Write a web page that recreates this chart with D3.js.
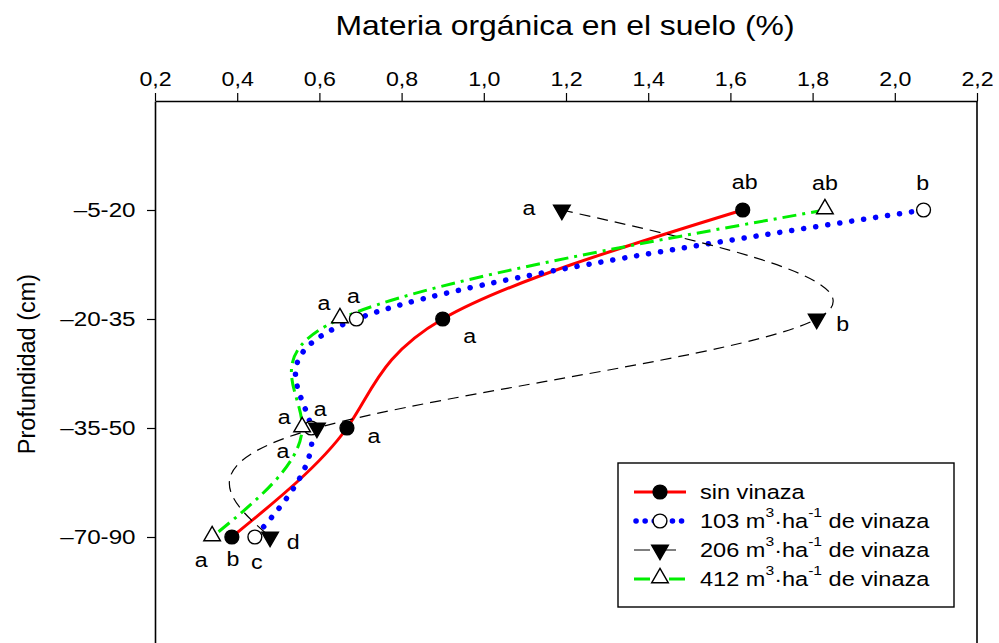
<!DOCTYPE html>
<html>
<head>
<meta charset="utf-8">
<script src="https://cdn.jsdelivr.net/npm/d3@7"></script>
<style>
  html, body { margin: 0; padding: 0; background: #fff; }
  svg { display: block; font-family: "Liberation Sans", Arial, sans-serif; }
</style>
</head>
<body>
<svg id="chart" width="999" height="643"></svg>
<script>
// Soil organic matter (%) by depth for four vinasse application rates
const depths = ["-5-20", "-20-35", "-35-50", "-70-90"];
const xTicks = [0.2, 0.4, 0.6, 0.8, 1.0, 1.2, 1.4, 1.6, 1.8, 2.0, 2.2];

const sinVinaza = [1.63, 0.90, 0.667, 0.387];
const vinaza103 = [2.07, 0.69, 0.58, 0.443];
const vinaza206 = [1.19, 1.81, 0.594, 0.48];
const vinaza412 = [1.83, 0.65, 0.558, 0.339];

const letrasSin = ["ab", "a", "a", "b"];
const letras103 = ["b", "a", "a", "c"];
const letras206 = ["a", "b", "a", "d"];
const letras412 = ["ab", "a", "a", "a"];

const svg = d3.select("#chart");
const plotLeft = 155, plotRight = 977, plotTop = 101, plotBottom = 646;
const wide = 1.16; // horizontal text stretch

const x = d3.scaleLinear().domain([0.2, 2.2]).range([plotLeft, plotRight]);
const y = d3.scalePoint().domain(depths).range([plotTop, plotBottom]).padding(1);

const comma = d3.formatLocale({ decimal: ",", thousands: ".", grouping: [3], currency: ["", ""] }).format(".1f");

// horizontal text, stretched sideways around its anchor point
function label(parent, tx, ty, str, size, anchor) {
  return parent.append("text")
    .attr("transform", `translate(${tx},${ty}) scale(${wide},1)`)
    .attr("text-anchor", anchor || "middle")
    .attr("font-size", size)
    .text(str);
}

// frame: top axis, left axis, right border
const xAxis = svg.append("g")
  .attr("transform", `translate(0,${plotTop})`)
  .call(d3.axisTop(x).tickValues(xTicks).tickFormat(comma).tickSizeOuter(0).tickSizeInner(8).tickPadding(7));
xAxis.select(".domain").attr("stroke", "#000").attr("stroke-width", 1.6);
xAxis.selectAll(".tick line").attr("stroke", "#000").attr("stroke-width", 1.2);
xAxis.selectAll(".tick text").attr("font-size", 20).attr("fill", "#000")
  .attr("font-family", "Liberation Sans, Arial, sans-serif")
  .attr("transform", `scale(${wide},1)`);

const yAxis = svg.append("g")
  .attr("transform", `translate(${plotLeft},0)`)
  .call(d3.axisLeft(y).tickSizeOuter(0).tickSizeInner(8).tickPadding(8)
    .tickFormat(d => d.replace(/^-/, "\u2013")));
yAxis.select(".domain").attr("stroke", "#000").attr("stroke-width", 1.6);
yAxis.selectAll(".tick line").attr("stroke", "#000").attr("stroke-width", 1.2);
yAxis.selectAll(".tick text").attr("font-size", 20.5).attr("fill", "#000")
  .attr("x", -16.5)
  .attr("transform", "scale(1.18,1)");

svg.append("line")
  .attr("x1", plotRight).attr("x2", plotRight).attr("y1", plotTop).attr("y2", 648)
  .attr("stroke", "#000").attr("stroke-width", 1.6);

// axis titles
label(svg, (plotLeft + plotRight) / 2 - 1, 35, "Materia orgánica en el suelo (%)", 27.5);

svg.append("text")
  .attr("transform", `translate(35,364) rotate(-90)`)
  .attr("text-anchor", "middle").attr("font-size", 23.5)
  .text("Profundidad (cm)");

const series = [
  { name: "sin", values: sinVinaza, letters: letrasSin, color: "#ff0000", width: 3, dash: null, cap: "butt", marker: "circle", fill: "#000",
    offs: [[2, -28], [27, 17], [27, 8], [1, 22]] },
  { name: "103", values: vinaza103, letters: letras103, color: "#0000ff", width: 5.5, dash: "0.1 12", cap: "round", marker: "circle", fill: "#fff",
    offs: [[-1, -27], [-3, -23], [9, -19], [2, 25]] },
  { name: "206", values: vinaza206, letters: letras206, color: "#000", width: 1.2, dash: "11 7", cap: "butt", marker: "down", fill: "#000",
    offs: [[-33, -2], [26, 5], [-34, 23], [23, 5]] },
  { name: "412", values: vinaza412, letters: letras412, color: "#00ee00", width: 3, dash: "14 6 3 6", cap: "butt", marker: "up", fill: "#fff",
    offs: [[0, -27], [-16, -16], [-18, -11], [-11, 23]] }
];

const line = d3.line().curve(d3.curveNatural);

const symbols = {
  circle: d3.symbol().type(d3.symbolCircle).size(150),
  down: d3.symbol().type(d3.symbolTriangle).size(120),
  up: d3.symbol().type(d3.symbolTriangle).size(120)
};

function drawMarker(g, s, px, py) {
  const path = g.append("path")
    .attr("d", symbols[s.marker]())
    .attr("fill", s.fill)
    .attr("stroke", "#000")
    .attr("stroke-width", 1.4);
  if (s.marker === "down") path.attr("transform", `translate(${px},${py}) rotate(180)`);
  else if (s.marker === "up") path.attr("transform", `translate(${px},${py - 1})`);
  else path.attr("transform", `translate(${px},${py})`);
}

// curves
series.forEach(s => {
  const pts = s.values.map((v, i) => [x(v), y(depths[i])]);
  svg.append("path")
    .attr("d", line(pts))
    .attr("fill", "none")
    .attr("stroke", s.color)
    .attr("stroke-width", s.width)
    .attr("stroke-linecap", s.cap)
    .attr("stroke-dasharray", s.dash);
});

// markers
series.forEach(s => {
  const g = svg.append("g");
  s.values.forEach((v, i) => drawMarker(g, s, x(v), y(depths[i])));
});

// significance letters
series.forEach(s => {
  s.values.forEach((v, i) => {
    label(svg, x(v) + s.offs[i][0], y(depths[i]) + s.offs[i][1], s.letters[i], 20)
      .attr("dominant-baseline", "central");
  });
});

// legend
const lg = svg.append("g");
lg.append("rect")
  .attr("x", 618).attr("y", 463).attr("width", 336).attr("height", 144)
  .attr("fill", "#fff").attr("stroke", "#000").attr("stroke-width", 1.4);

const legendLabels = [
  ["sin vinaza"],
  ["103 m", "3", "\u00b7ha", "-1", " de vinaza"],
  ["206 m", "3", "\u00b7ha", "-1", " de vinaza"],
  ["412 m", "3", "\u00b7ha", "-1", " de vinaza"]
];
const rowY = [492, 521, 550, 579];

series.forEach((s, i) => {
  const ry = rowY[i];
  lg.append("line")
    .attr("x1", s.name === "103" ? 636 : 634).attr("x2", 686)
    .attr("y1", ry).attr("y2", ry)
    .attr("stroke", s.color).attr("stroke-width", s.width)
    .attr("stroke-linecap", s.cap)
    .attr("stroke-dasharray", s.name === "103" ? "0.1 9" : s.name === "206" ? "16 10" : s.name === "412" ? "16 10 3 6" : null);
  drawMarker(lg, s, 660, ry);
  const t = label(lg, 700, ry, null, 20.3, "start")
    .attr("dominant-baseline", "central");
  legendLabels[i].forEach((part, k) => {
    const ts = t.append("tspan").text(part);
    if (k === 1 || k === 3) ts.attr("font-size", 13.5).attr("dy", -9);
    if (k === 2 || k === 4) ts.attr("dy", 9);
  });
});
</script>
</body>
</html>
